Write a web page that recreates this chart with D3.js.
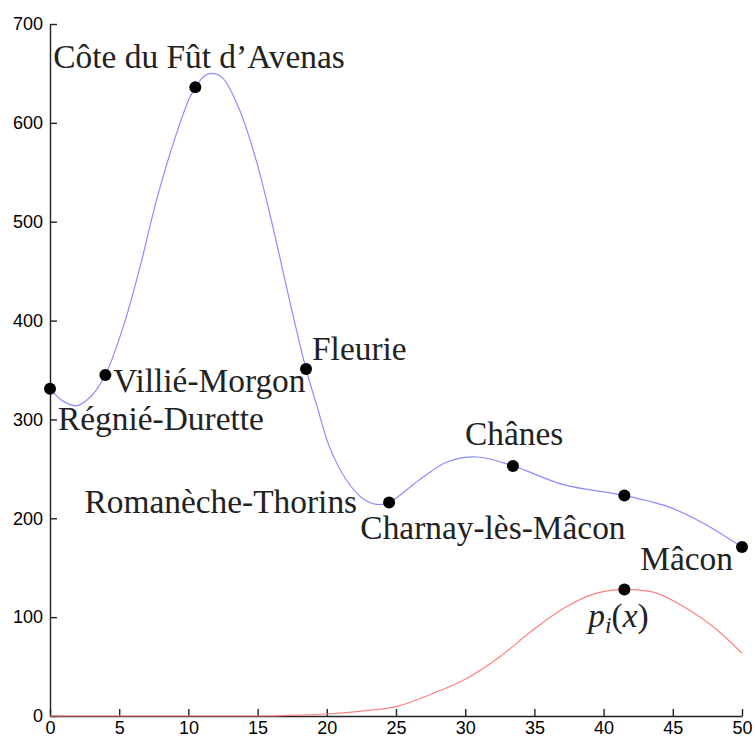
<!DOCTYPE html>
<html>
<head>
<meta charset="utf-8">
<script src="https://cdn.jsdelivr.net/npm/d3@7"></script>
<style>
  body { margin: 0; background: #fff; }
</style>
</head>
<body>
<div class="chart"></div>
<script>
// villages (points)
const villages = ["Régnié-Durette", "Villié-Morgon", "Côte du Fût d’Avenas", "Fleurie",
                  "Romanèche-Thorins", "Chânes", "Charnay-lès-Mâcon", "Mâcon"];
const pointX = [0, 4, 10.5, 18.5, 24.5, 33.45, 41.5, 50];
const pointY = [331, 345, 636, 351, 216, 253, 223, 171];

// interpolated curve (blue), sampled by eye
const blueX = [0, 1, 1.95, 3, 4, 5.3, 6.5, 7.7, 8.9, 10.1, 10.5, 11.1, 11.75, 12.5, 13.7, 14.9, 16.1, 17.3, 18.5,
               19.3, 20.2, 21.4, 22.6, 23.6, 24.5, 26.7, 28.7, 30.85, 33.45, 37.1, 41.5, 44.8, 47.2, 50];
const blueY = [331, 318, 314, 324, 345, 394, 454, 522, 579, 626, 635, 647, 650, 645, 613, 562, 495, 421, 351,
               313, 272, 239, 220, 214, 216, 239, 257, 262, 253, 234, 223, 211, 195, 171];

// basis function p_i(x) (red)
const redX = [0, 15, 17, 20, 22.5, 25, 27.7, 30.1, 32.5, 34.9, 37.3, 39.7, 41.5, 43.35, 45.8, 48.2, 50];
const redY = [0, 0, 0.5, 2, 5, 9.5, 23, 38, 60, 87, 110.5, 125, 128, 126, 110.5, 87, 63.5];
const redPoint = [41.5, 128];

const xTicks = [0, 5, 10, 15, 20, 25, 30, 35, 40, 45, 50];
const yTicks = [0, 100, 200, 300, 400, 500, 600, 700];

// label placement relative to its point: [dx, dy, anchor]
const labelPos = [[8, 41, "start"], [8, 17, "start"], [-142, -19, "start"], [6, -9, "start"],
                  [-32, 11, "end"], [-48, -21, "start"], [-264, 43, "start"], [-9, 23, "end"]];

const W = 755, H = 741;
const serif = "'Liberation Serif', 'DejaVu Serif', 'Times New Roman', serif";
const svg = d3.select(".chart").append("svg").attr("width", W).attr("height", H);

const x = d3.scaleLinear().domain([0, 50]).range([50, 742]);
const y = d3.scaleLinear().domain([0, 700]).range([716, 24]);

// fit the label font roughly to the widths in the picture
const probe = svg.append("text").attr("font-family", serif).attr("font-size", 33).text(villages[2]);
const fs = 0.95 * 33 * 307 / probe.node().getComputedTextLength();
probe.remove();

// curves
const line = d3.line().x(d => x(d[0])).y(d => y(d[1])).curve(d3.curveCatmullRom.alpha(0.5));
const redLine = d3.line().x(d => x(d[0])).y(d => y(d[1])).curve(d3.curveMonotoneX);
svg.append("path")
   .attr("d", line(blueX.map((v, i) => [v, blueY[i]])))
   .attr("fill", "none").attr("stroke", "#8c8cff").attr("stroke-width", 1.2);

// axes
const yAxis = d3.axisLeft(y).tickValues(yTicks).tickSizeInner(-7).tickSizeOuter(0).tickPadding(7);
svg.append("g").attr("transform", "translate(50,0)").call(yAxis)
   .attr("font-size", 18).attr("font-family", "'Liberation Sans', Arial, sans-serif")
   .call(g => g.selectAll("line, path").attr("stroke", "#222").attr("stroke-width", 1.4))
   .call(g => g.selectAll("text").attr("fill", "#000"));
const xAxis = d3.axisBottom(x).tickValues(xTicks).tickSizeInner(-7).tickSizeOuter(0).tickPadding(5);
svg.append("g").attr("transform", "translate(0,716)").call(xAxis)
   .attr("font-size", 18).attr("font-family", "'Liberation Sans', Arial, sans-serif")
   .call(g => g.selectAll("line, path").attr("stroke", "#222").attr("stroke-width", 1.4))
   .call(g => g.selectAll("text").attr("fill", "#000"));

svg.append("path")
   .attr("d", redLine(redX.map((v, i) => [v, redY[i]])))
   .attr("fill", "none").attr("stroke", "#ff8080").attr("stroke-width", 1.2);

// points
svg.selectAll(".pt").data(pointX).enter().append("circle")
   .attr("class", "pt")
   .attr("cx", d => x(d)).attr("cy", (d, i) => y(pointY[i])).attr("r", 6).attr("fill", "#000");
svg.append("circle").attr("cx", x(redPoint[0])).attr("cy", y(redPoint[1])).attr("r", 6).attr("fill", "#000");

// village labels
svg.selectAll(".lbl").data(villages).enter().append("text")
   .attr("class", "lbl")
   .attr("font-family", serif).attr("font-size", fs).attr("fill", "#222")
   .attr("x", (d, i) => x(pointX[i]) + labelPos[i][0])
   .attr("y", (d, i) => y(pointY[i]) + labelPos[i][1])
   .attr("text-anchor", (d, i) => labelPos[i][2])
   .text(d => d);

// p_i(x)
const pl = svg.append("text").attr("font-family", serif).attr("fill", "#222")
   .attr("x", x(redPoint[0]) - 36).attr("y", y(redPoint[1]) + 38).attr("font-size", fs);
pl.append("tspan").attr("font-style", "italic").text("p");
pl.append("tspan").attr("font-style", "italic").attr("font-size", fs * 0.7).attr("dy", 6).text("i");
pl.append("tspan").attr("dy", -6).text("(");
pl.append("tspan").attr("font-style", "italic").text("x");
pl.append("tspan").text(")");
</script>
</body>
</html>
